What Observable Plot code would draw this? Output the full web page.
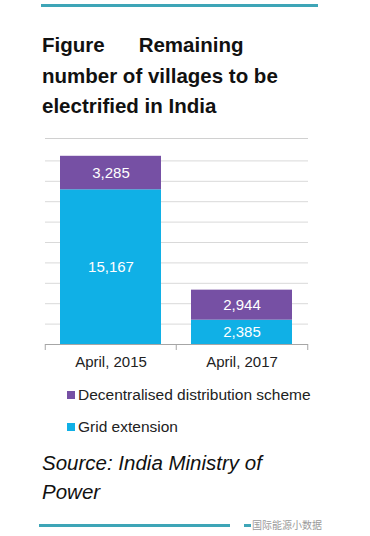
<!DOCTYPE html>
<html>
<head>
<meta charset="utf-8">
<script src="https://cdn.jsdelivr.net/npm/d3@7"></script>
<script src="https://cdn.jsdelivr.net/npm/@observablehq/plot@0.6"></script>
<style>
  html, body { margin: 0; padding: 0; background: #fff; }
  body { width: 370px; height: 536px; position: relative; overflow: hidden; font-family: "Liberation Sans", Arial, sans-serif; }
  .abs { position: absolute; }
  .title { left: 42px; top: 30px; font-weight: bold; font-size: 20.5px; line-height: 30.5px; color: #111; white-space: nowrap; }
  .legend-item { left: 78px; font-size: 15.5px; line-height: 20px; color: #222; white-space: nowrap; }
  .swatch { width: 8px; height: 8px; left: 67px; }
  .source { left: 42px; top: 448px; font-style: italic; font-size: 20.5px; line-height: 29px; color: #111; white-space: nowrap; }
  .wm { left: 252px; top: 518px; font-family: "Noto Sans CJK SC", sans-serif; font-size: 10px; line-height: 14px; color: #9a9a9a; white-space: nowrap; }
</style>
</head>
<body>
<div class="abs" style="left:41px;top:4px;width:277px;height:3px;background:#3ea5b7;"></div>
<div class="abs title">Figure<span style="display:inline-block;width:34px"></span>Remaining<br>number of villages to be<br>electrified in India</div>
<div class="abs" style="left:45px;top:138px;width:263px;height:1px;background:#d0d0d0;"></div>
<div id="chart" class="abs" style="left:0;top:140px;"></div>
<div id="legend"></div>
<div class="abs source">Source: India Ministry of<br>Power</div>
<div class="abs" style="left:39px;top:524px;width:191px;height:3px;background:#3ea5b7;"></div>
<div class="abs" style="left:244px;top:524px;width:7px;height:3px;background:#3ea5b7;"></div>
<div class="abs wm">国际能源小数据</div>
<script>
const categories = ["April, 2015", "April, 2017"];
const seriesNames = ["Decentralised distribution scheme", "Grid extension"];
const gridExtension = [15167, 2385];
const decentralised = [3285, 2944];
const yTicks = [2000, 4000, 6000, 8000, 10000, 12000, 14000, 16000, 18000];
const colors = ["#7650a4", "#10b0e6"];

const data = [];
categories.forEach((c, i) => {
  data.push({category: c, series: seriesNames[1], value: gridExtension[i]});
  data.push({category: c, series: seriesNames[0], value: decentralised[i]});
});

const W = 370, H = 236, mL = 45, mR = 62, mT = 0, mB = 32;
const pInner = 0.227, pOuter = 0.1135;
const step = (W - mL - mR) / (categories.length - pInner + 2 * pOuter);
const order = [seriesNames[1], seriesNames[0]];
const fmt = d3.format(",");

const chart = Plot.plot({
  width: W, height: H,
  marginLeft: mL, marginRight: mR, marginTop: mT, marginBottom: mB,
  style: {fontFamily: "'Liberation Sans', Arial, sans-serif", fontSize: "15px", color: "#222", background: "transparent"},
  x: {domain: categories, paddingInner: pInner, paddingOuter: pOuter, label: null},
  y: {domain: [0, 20000], axis: null},
  color: {domain: seriesNames, range: colors},
  marks: [
    Plot.ruleY(yTicks, {stroke: "#d9d9d9", strokeWidth: 1}),
    Plot.barY(data, Plot.stackY({x: "category", y: "value", fill: "series", order})),
    Plot.text(data, Plot.stackY({x: "category", y: "value", z: "series", order, text: d => fmt(d.value), fill: "#fff", fontSize: 15})),
    Plot.ruleY([0], {stroke: "#a6a6a6", strokeWidth: 1}),
    Plot.ruleX(categories, {x: d => d, y1: 0, y2: 0, insetBottom: -6, dx: -step / 2, stroke: "#a6a6a6"}),
    Plot.ruleX(categories.slice(-1), {x: d => d, y1: 0, y2: 0, insetBottom: -6, dx: step / 2, stroke: "#a6a6a6"}),
    Plot.axisX({tickSize: 0, tickPadding: 12, fontSize: 15, fill: "#222", label: null})
  ]
});
document.getElementById("chart").appendChild(chart);

const legend = document.getElementById("legend");
const legendTops = [384.6, 416.6];
const swatchTops = [391, 423];
seriesNames.forEach((s, i) => {
  const sw = document.createElement("div");
  sw.className = "abs swatch";
  sw.style.top = swatchTops[i] + "px";
  sw.style.background = colors[i];
  legend.appendChild(sw);
  const t = document.createElement("div");
  t.className = "abs legend-item";
  t.style.top = legendTops[i] + "px";
  t.textContent = s;
  legend.appendChild(t);
});
</script>
</body>
</html>
